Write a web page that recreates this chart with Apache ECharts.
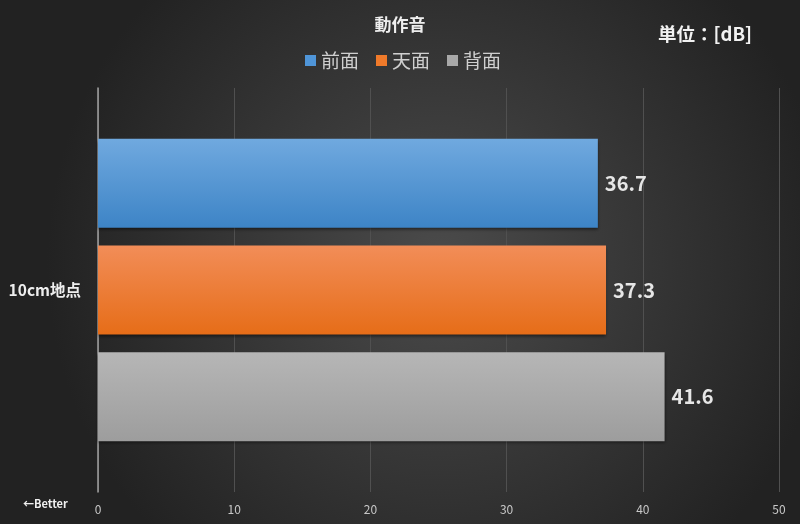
<!DOCTYPE html>
<html>
<head>
<meta charset="utf-8">
<script src="https://cdn.jsdelivr.net/npm/echarts@6/dist/echarts.min.js"></script>
<style>
html,body{margin:0;padding:0;background:#2b2b2b;}
#c{width:800px;height:524px;}
</style>
</head>
<body>
<div id="c"></div>
<script>
const categories = ['10cm地点'];
const seriesNames = ['前面', '天面', '背面'];
const frontValues = [36.7];
const topValues = [37.3];
const backValues = [41.6];
const xTicks = [0, 10, 20, 30, 40, 50];

const FONT = '"Noto Sans CJK JP", "Noto Sans", sans-serif';
function grad(c1, c2) {
  return new echarts.graphic.LinearGradient(0, 0, 0, 1, [
    { offset: 0, color: c1 }, { offset: 1, color: c2 }
  ]);
}
const seriesColors = [
  grad('#70a9df', '#3d84c6'),
  grad('#f28d58', '#e66d18'),
  grad('#b6b6b6', '#9d9d9d')
];
const legendColors = ['#4f95d8', '#f07a2a', '#a8a8a8'];
const valuesList = [frontValues, topValues, backValues];

const chart = echarts.init(document.getElementById('c'));
chart.setOption({
  backgroundColor: new echarts.graphic.RadialGradient(0.55, 0.5, 0.75, [
    { offset: 0, color: '#4b4b4b' }, { offset: 1, color: '#222222' }
  ]),
  animation: false,
  title: [{
    text: '動作音', left: 'center', top: 11,
    textStyle: { color: '#eeeeee', fontSize: 17, fontWeight: 'bold', fontFamily: FONT }
  }, {
    text: '単位：[dB]', left: 653, top: 20,
    textStyle: { color: '#f2f2f2', fontSize: 18.5, fontWeight: 'bold', fontFamily: FONT }
  }],
  legend: {
    data: seriesNames.map((n, i) => ({ name: n, itemStyle: { color: legendColors[i] } })),
    top: 46, left: 300,
    itemWidth: 11, itemHeight: 11, itemGap: 17,
    icon: 'rect',
    textStyle: { color: '#cfcfcf', fontSize: 19, fontFamily: FONT }
  },
  grid: { left: 98, right: 21, top: 88, bottom: 32 },
  xAxis: {
    type: 'value', min: 0, max: 50, interval: 10,
    axisLine: { show: false },
    axisTick: { show: false },
    splitLine: { show: true, lineStyle: { color: '#505050', width: 1 } },
    axisLabel: { color: '#c8c8c8', fontSize: 12, fontFamily: FONT, margin: 11 }
  },
  yAxis: {
    type: 'category', data: categories, inverse: true,
    axisLine: { show: true, lineStyle: { color: '#a0a0a0', width: 1.5 } },
    axisTick: { show: false },
    axisLabel: { color: '#eeeeee', fontSize: 15.5, fontWeight: 'bold', fontFamily: FONT, margin: 17 }
  },
  graphic: [{
    type: 'text', left: 23, top: 498,
    style: { text: '←Better', fill: '#f0f0f0', font: 'bold 11px ' + FONT }
  }],
  series: seriesNames.map((n, i) => ({
    name: n, type: 'bar', data: valuesList[i],
    barWidth: 89, barGap: '20%',
    itemStyle: { color: seriesColors[i], shadowColor: 'rgba(0,0,0,0.5)', shadowBlur: 3, shadowOffsetY: 2 },
    label: {
      show: true, position: 'right', distance: 7,
      color: '#e6e6e6', fontSize: 20, fontWeight: 'bold', fontFamily: FONT
    }
  }))
});
</script>
</body>
</html>
